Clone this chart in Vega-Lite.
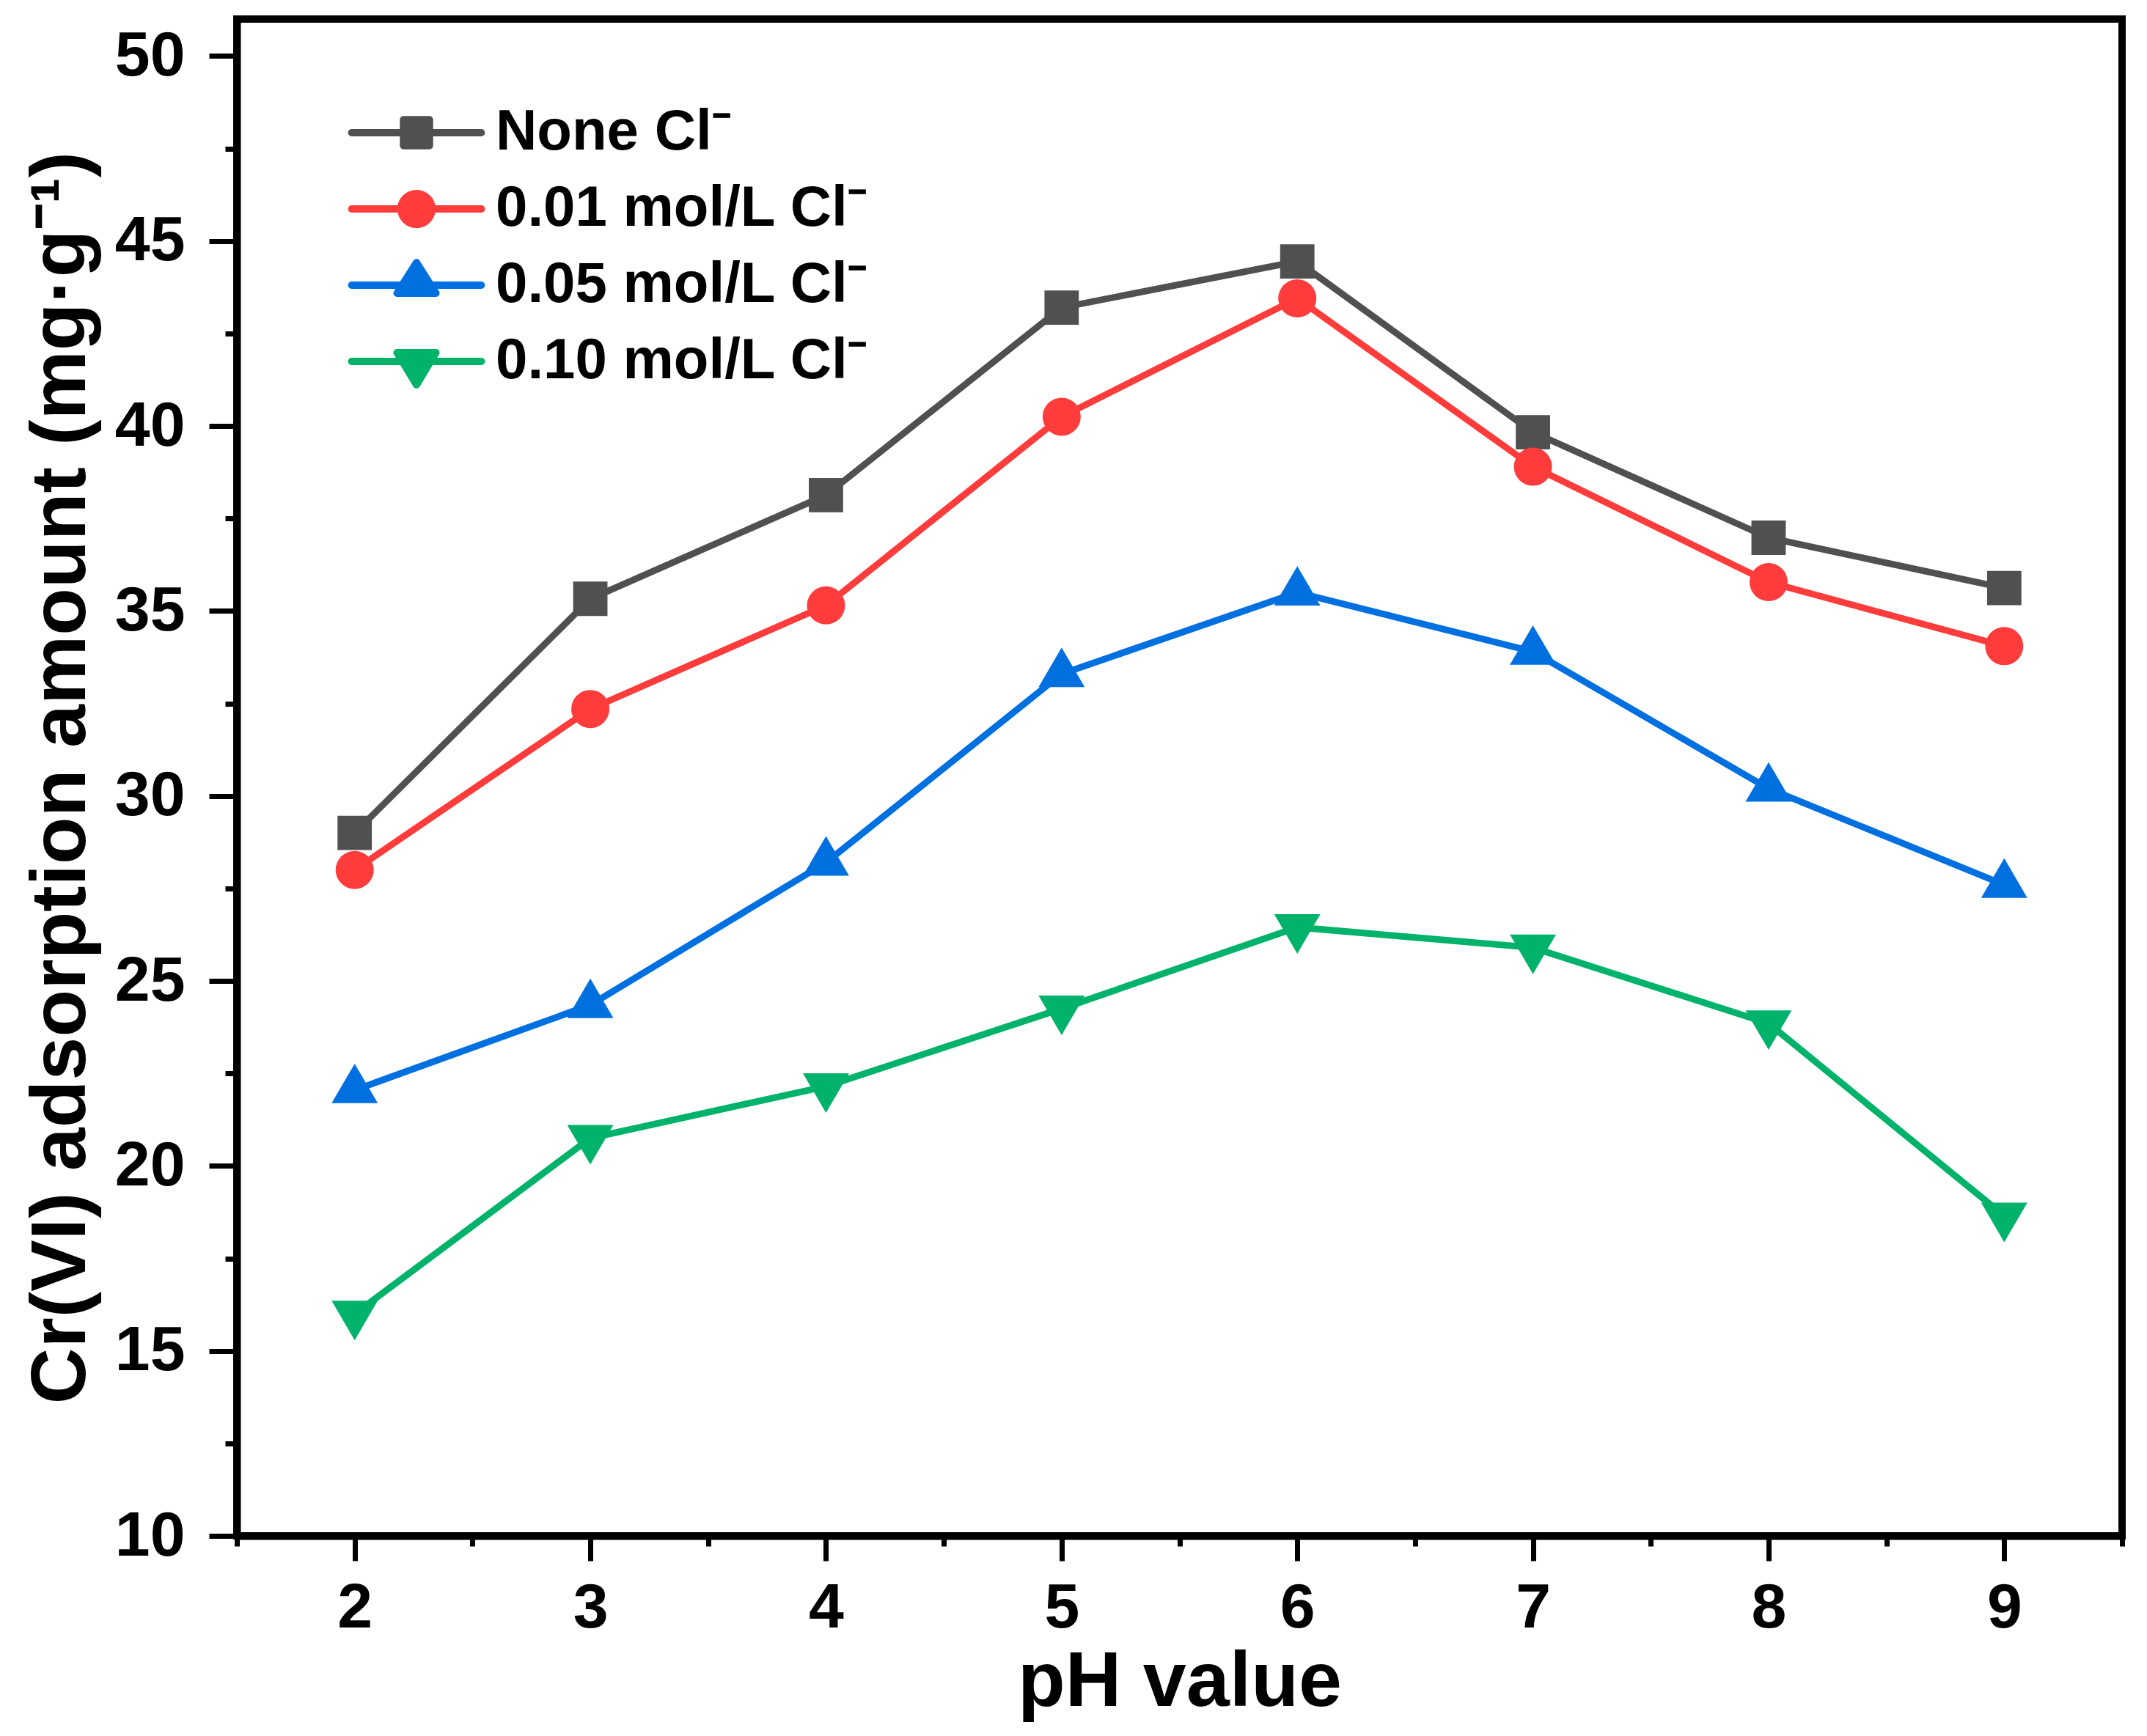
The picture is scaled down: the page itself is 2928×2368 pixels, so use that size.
{
  "$schema": "https://vega.github.io/schema/vega-lite/v6.json",
  "width": 2571,
  "height": 2069,
  "autosize": {"type": "none"},
  "padding": {"left": 323, "top": 26, "right": 34, "bottom": 273},
  "background": "white",
  "config": {
    "view": {"stroke": "black", "strokeWidth": 10},
    "font": "Liberation Sans",
    "axis": {
      "grid": false,
      "domainColor": "black",
      "domainWidth": 10,
      "tickColor": "black",
      "tickWidth": 7,
      "labelFont": "Liberation Sans",
      "labelFontWeight": "bold",
      "labelFontSize": 86,
      "labelColor": "black",
      "titleFont": "Liberation Sans",
      "titleFontWeight": "bold",
      "titleFontSize": 106,
      "titleColor": "black"
    }
  },
  "data": {
    "values": [
      {"ph": 2, "q": 29.0, "series": "None Cl⁻"},
      {"ph": 3, "q": 35.33, "series": "None Cl⁻"},
      {"ph": 4, "q": 38.13, "series": "None Cl⁻"},
      {"ph": 5, "q": 43.2, "series": "None Cl⁻"},
      {"ph": 6, "q": 44.45, "series": "None Cl⁻"},
      {"ph": 7, "q": 39.83, "series": "None Cl⁻"},
      {"ph": 8, "q": 36.98, "series": "None Cl⁻"},
      {"ph": 9, "q": 35.62, "series": "None Cl⁻"},
      {"ph": 2, "q": 28.0, "series": "0.01 mol/L Cl⁻"},
      {"ph": 3, "q": 32.35, "series": "0.01 mol/L Cl⁻"},
      {"ph": 4, "q": 35.15, "series": "0.01 mol/L Cl⁻"},
      {"ph": 5, "q": 40.25, "series": "0.01 mol/L Cl⁻"},
      {"ph": 6, "q": 43.45, "series": "0.01 mol/L Cl⁻"},
      {"ph": 7, "q": 38.9, "series": "0.01 mol/L Cl⁻"},
      {"ph": 8, "q": 35.78, "series": "0.01 mol/L Cl⁻"},
      {"ph": 9, "q": 34.05, "series": "0.01 mol/L Cl⁻"},
      {"ph": 2, "q": 22.05, "series": "0.05 mol/L Cl⁻"},
      {"ph": 3, "q": 24.35, "series": "0.05 mol/L Cl⁻"},
      {"ph": 4, "q": 28.2, "series": "0.05 mol/L Cl⁻"},
      {"ph": 5, "q": 33.3, "series": "0.05 mol/L Cl⁻"},
      {"ph": 6, "q": 35.5, "series": "0.05 mol/L Cl⁻"},
      {"ph": 7, "q": 33.9, "series": "0.05 mol/L Cl⁻"},
      {"ph": 8, "q": 30.2, "series": "0.05 mol/L Cl⁻"},
      {"ph": 9, "q": 27.6, "series": "0.05 mol/L Cl⁻"},
      {"ph": 2, "q": 16.0, "series": "0.10 mol/L Cl⁻"},
      {"ph": 3, "q": 20.75, "series": "0.10 mol/L Cl⁻"},
      {"ph": 4, "q": 22.15, "series": "0.10 mol/L Cl⁻"},
      {"ph": 5, "q": 24.25, "series": "0.10 mol/L Cl⁻"},
      {"ph": 6, "q": 26.45, "series": "0.10 mol/L Cl⁻"},
      {"ph": 7, "q": 25.9, "series": "0.10 mol/L Cl⁻"},
      {"ph": 8, "q": 23.85, "series": "0.10 mol/L Cl⁻"},
      {"ph": 9, "q": 18.65, "series": "0.10 mol/L Cl⁻"}
    ]
  },
  "resolve": {"axis": {"x": "independent", "y": "independent"}, "legend": {"color": "independent", "shape": "independent"}},
  "layer": [
    {
      "mark": {"type": "line", "strokeWidth": 9},
      "encoding": {
        "x": {
          "field": "ph", "type": "quantitative",
          "scale": {"domain": [1.5, 9.5], "nice": false, "zero": false},
          "axis": {"orient": "bottom", "values": [2, 3, 4, 5, 6, 7, 8, 9], "tickSize": 34, "labelPadding": 22, "title": "pH value", "titlePadding": 6}
        },
        "y": {
          "field": "q", "type": "quantitative",
          "scale": {"domain": [10, 51], "nice": false, "zero": false},
          "axis": {"orient": "left", "values": [10, 15, 20, 25, 30, 35, 40, 45, 50], "tickSize": 38, "labelPadding": 33, "title": "Cr(VI) adsorption amount (mg·g⁻¹)", "titlePadding": 19}
        },
        "color": {
          "field": "series", "type": "nominal",
          "scale": {
            "domain": ["None Cl⁻", "0.01 mol/L Cl⁻", "0.05 mol/L Cl⁻", "0.10 mol/L Cl⁻"],
            "range": ["#505050", "#FF3C3C", "#0070E0", "#00B26A"]
          },
          "legend": {
            "orient": "none", "legendX": 206, "legendY": 116, "title": null, "padding": 0,
            "labelFont": "Liberation Sans", "labelFontSize": 78, "labelFontWeight": "bold", "labelColor": "black", "labelLimit": 3000,
            "symbolSize": 2704, "rowPadding": 26, "labelOffset": 69,
            "encode": {
              "symbols": {
                "update": {
                  "shape": {"signal": "indexof(datum.value,'None')>=0 ? 'M-3.4,0L3.4,0M-0.68,-0.68L0.68,-0.68L0.68,0.68L-0.68,0.68Z' : indexof(datum.value,'0.01')>=0 ? 'M-3.4,0L3.4,0M0.81,0A0.81,0.81,0,1,1,-0.81,0A0.81,0.81,0,1,1,0.81,0Z' : indexof(datum.value,'0.05')>=0 ? 'M-3.4,0L3.4,0M0,-1.19L1.02,0.42L-1.02,0.42Z' : 'M-3.4,0L3.4,0M-1.02,-0.46L1.02,-0.46L0,1.23Z'"},
                  "fill": {"signal": "scale('color', datum.value)"},
                  "stroke": {"signal": "scale('color', datum.value)"},
                  "strokeWidth": {"value": 10},
                  "strokeJoin": {"value": "round"},
                  "strokeCap": {"value": "round"},
                  "opacity": {"value": 1}
                }
              }
            }
          }
        }
      }
    },
    {
      "mark": {"type": "point", "filled": true, "opacity": 1, "size": 2704},
      "encoding": {
        "x": {"field": "ph", "type": "quantitative", "axis": null},
        "y": {"field": "q", "type": "quantitative", "axis": null},
        "color": {"field": "series", "type": "nominal", "legend": null},
        "shape": {
          "field": "series", "type": "nominal",
          "scale": {
            "domain": ["None Cl⁻", "0.01 mol/L Cl⁻", "0.05 mol/L Cl⁻", "0.10 mol/L Cl⁻"],
            "range": ["M-0.9,-0.9L0.9,-0.9L0.9,0.9L-0.9,0.9Z", "circle", "M0,-1.385L1.21,0.69L-1.21,0.69Z", "M0,1.385L1.21,-0.69L-1.21,-0.69Z"]
          },
          "legend": null
        }
      }
    },
    {
      "mark": {"type": "point", "opacity": 0},
      "encoding": {
        "x": {
          "field": "ph", "type": "quantitative",
          "axis": {"orient": "bottom", "values": [1.5, 2.5, 3.5, 4.5, 5.5, 6.5, 7.5, 8.5, 9.5], "tickSize": 14, "labels": false, "domain": false, "title": null}
        },
        "y": {
          "field": "q", "type": "quantitative",
          "axis": {"orient": "left", "values": [12.5, 17.5, 22.5, 27.5, 32.5, 37.5, 42.5, 47.5], "tickSize": 16, "labels": false, "domain": false, "title": null}
        }
      }
    }
  ]
}
